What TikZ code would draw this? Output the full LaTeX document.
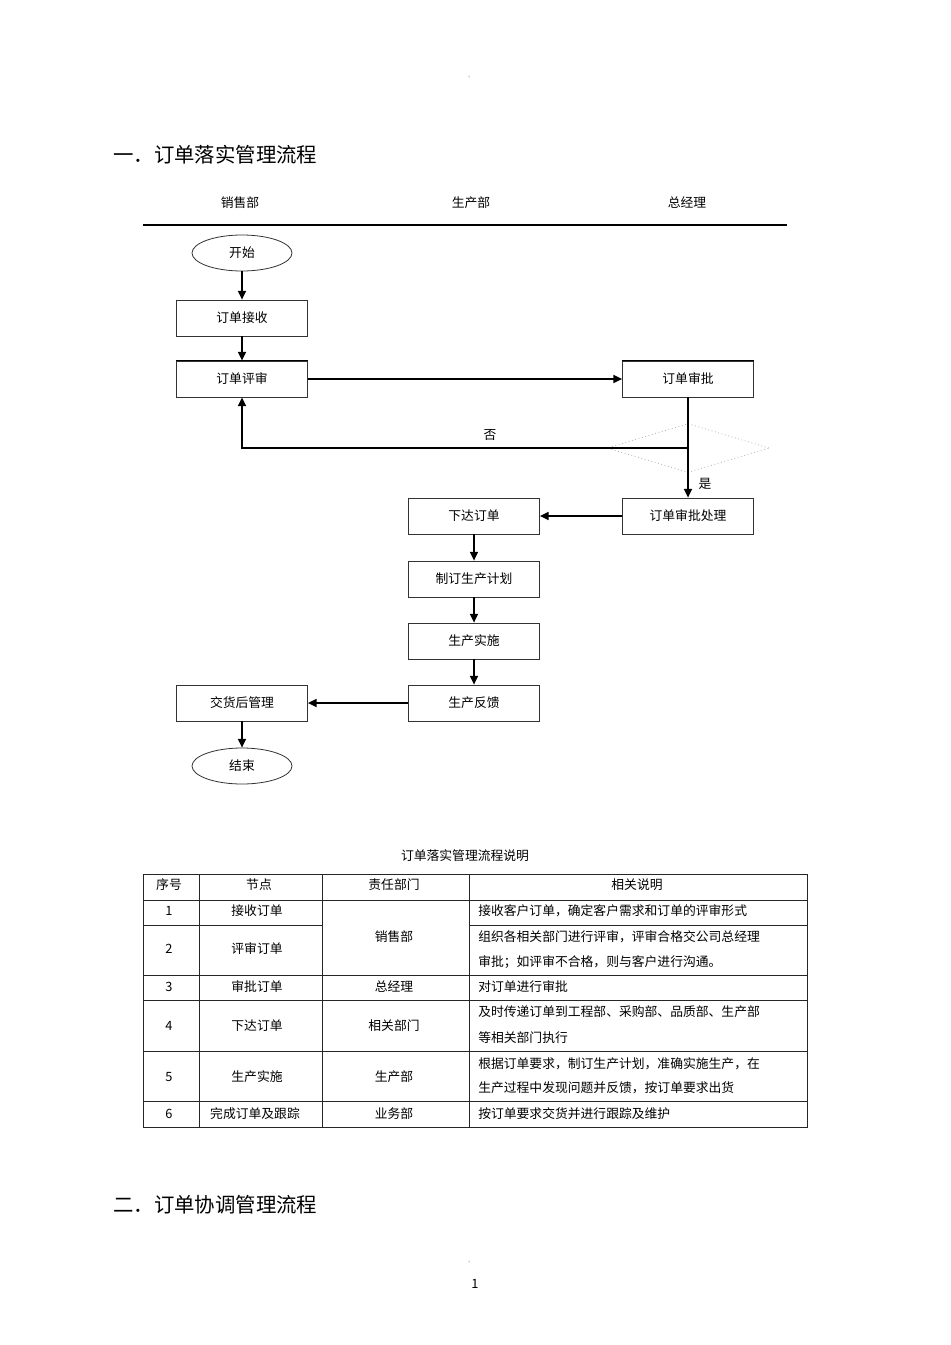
\documentclass[tikz,border=0pt]{standalone}
\usepackage{fontspec}
\setmainfont{Noto Sans CJK SC}
\usetikzlibrary{shapes.geometric,arrows.meta}
\newcommand\flowfont{\fontsize{9.6}{11}\selectfont}
\newcommand\titlefont{\fontsize{15.3}{18}\selectfont}
\newcommand\smallmark{\fontsize{4}{5}\selectfont}
\begin{document}
\begin{tikzpicture}[x=0.75pt,y=-0.75pt,
  box/.style={draw=black!80,line width=0.6pt,minimum width=98.25pt,minimum height=27pt,inner sep=0pt,font=\flowfont},
  oval/.style={ellipse,draw=black!80,line width=0.6pt,minimum width=75pt,minimum height=27pt,inner sep=0pt,font=\flowfont},
  arr/.style={line width=1.1pt,-{Triangle[length=6.5pt,width=6pt]}},
  lbl/.style={font=\flowfont,inner sep=0pt},
  cell/.style={font=\flowfont,inner sep=0pt},
  desc/.style={font=\flowfont,inner sep=0pt,anchor=west},
  rule/.style={line width=0.7pt,draw=black!85},
  decision/.style={diamond,draw=black!30,dotted,line width=0.6pt,minimum width=121.5pt,minimum height=36.75pt,inner sep=0pt,aspect=3.3}]
\useasboundingbox[fill=white] (0,0) rectangle (950,1345);

% marks and titles
\node[font=\smallmark,text=black!50] (m1) at (471,77) {。};
\node[anchor=west,font=\titlefont,inner sep=0pt] (t1) at (113,155) {一．订单落实管理流程};
\node[lbl] (h1) at (240,203) {销售部};
\node[lbl] (h2) at (471,203) {生产部};
\node[lbl] (h3) at (687,203) {总经理};
\draw[line width=0.8pt] (143,225) -- (787,225);

% flow nodes
\node[oval] (start) at (242,253) {开始};
\node[box] (jieshou) at (242,318) {订单接收};
\node[box] (pingshen) at (242,379) {订单评审};
\node[box] (shenpi) at (688,379) {订单审批};
\node[decision] (dec) at (688,448) {};
\node[box] (chuli) at (688,516) {订单审批处理};
\node[box] (xiada) at (474,516) {下达订单};
\node[box] (jihua) at (474,579) {制订生产计划};
\node[box] (shishi) at (474,641) {生产实施};
\node[box] (fankui) at (474,703) {生产反馈};
\node[box] (jiaohuo) at (242,703) {交货后管理};
\node[oval] (end) at (242,766) {结束};

\draw[line width=1.3pt] (pingshen.north west) -- (pingshen.north east);
\draw[line width=1.3pt] (shenpi.north west) -- (shenpi.north east);

% connectors
\draw[arr] (start) -- (jieshou);
\draw[arr] (jieshou) -- (pingshen);
\draw[arr] (pingshen) -- (shenpi);
\draw[arr] (shenpi) -- (chuli);
\draw[arr] (dec.center) -| (pingshen.south);
\draw[arr] (chuli) -- (xiada);
\draw[arr] (xiada) -- (jihua);
\draw[arr] (jihua) -- (shishi);
\draw[arr] (shishi) -- (fankui);
\draw[arr] (fankui) -- (jiaohuo);
\draw[arr] (jiaohuo) -- (end);
\node[lbl] (no) at (490,435) {否};
\node[lbl] (yes) at (705,484) {是};

% table
\node[lbl] (ttitle) at (465,856) {订单落实管理流程说明};
\draw[rule] (143,874) rectangle (807,1127);
\draw[rule] (143,900) -- (807,900);
\draw[rule] (143,925) -- (322,925);
\draw[rule] (469,925) -- (807,925);
\draw[rule] (143,975) -- (807,975);
\draw[rule] (143,1000) -- (807,1000);
\draw[rule] (143,1051) -- (807,1051);
\draw[rule] (143,1101) -- (807,1101);
\draw[rule] (199,874) -- (199,1127);
\draw[rule] (322,874) -- (322,1127);
\draw[rule] (469,874) -- (469,1127);

\node[cell] (c01) at (169,885) {序号};
\node[cell] (c02) at (259,885) {节点};
\node[cell] (c03) at (394,885) {责任部门};
\node[cell] (c04) at (637,885) {相关说明};

\node[cell] (c11) at (169,911) {1};
\node[cell] (c12) at (257,911) {接收订单};
\node[desc] (c14) at (478,911) {接收客户订单，确定客户需求和订单的评审形式};

\node[cell] (c21) at (169,949) {2};
\node[cell] (c22) at (257,949) {评审订单};
\node[cell] (c23) at (394,937) {销售部};
\node[desc] (c24a) at (478,937) {组织各相关部门进行评审，评审合格交公司总经理};
\node[desc] (c24b) at (478,962) {审批；如评审不合格，则与客户进行沟通。};

\node[cell] (c31) at (169,987) {3};
\node[cell] (c32) at (257,987) {审批订单};
\node[cell] (c33) at (394,987) {总经理};
\node[desc] (c34) at (478,987) {对订单进行审批};

\node[cell] (c41) at (169,1026) {4};
\node[cell] (c42) at (257,1026) {下达订单};
\node[cell] (c43) at (394,1026) {相关部门};
\node[desc] (c44a) at (478,1012) {及时传递订单到工程部、采购部、品质部、生产部};
\node[desc] (c44b) at (478,1038) {等相关部门执行};

\node[cell] (c51) at (169,1077) {5};
\node[cell] (c52) at (257,1077) {生产实施};
\node[cell] (c53) at (394,1077) {生产部};
\node[desc] (c54a) at (478,1064) {根据订单要求，制订生产计划，准确实施生产，在};
\node[desc] (c54b) at (478,1088) {生产过程中发现问题并反馈，按订单要求出货};

\node[cell] (c61) at (169,1114) {6};
\node[cell] (c62) at (255,1114) {完成订单及跟踪};
\node[cell] (c63) at (394,1114) {业务部};
\node[desc] (c64) at (478,1114) {按订单要求交货并进行跟踪及维护};

\node[anchor=west,font=\titlefont,inner sep=0pt] (t2) at (113,1205) {二．订单协调管理流程};
\node[font=\smallmark,text=black!50] (m2) at (471,1262) {。};
\node[font=\flowfont,inner sep=0pt] (page) at (475,1284) {1};
\end{tikzpicture}
\end{document}
